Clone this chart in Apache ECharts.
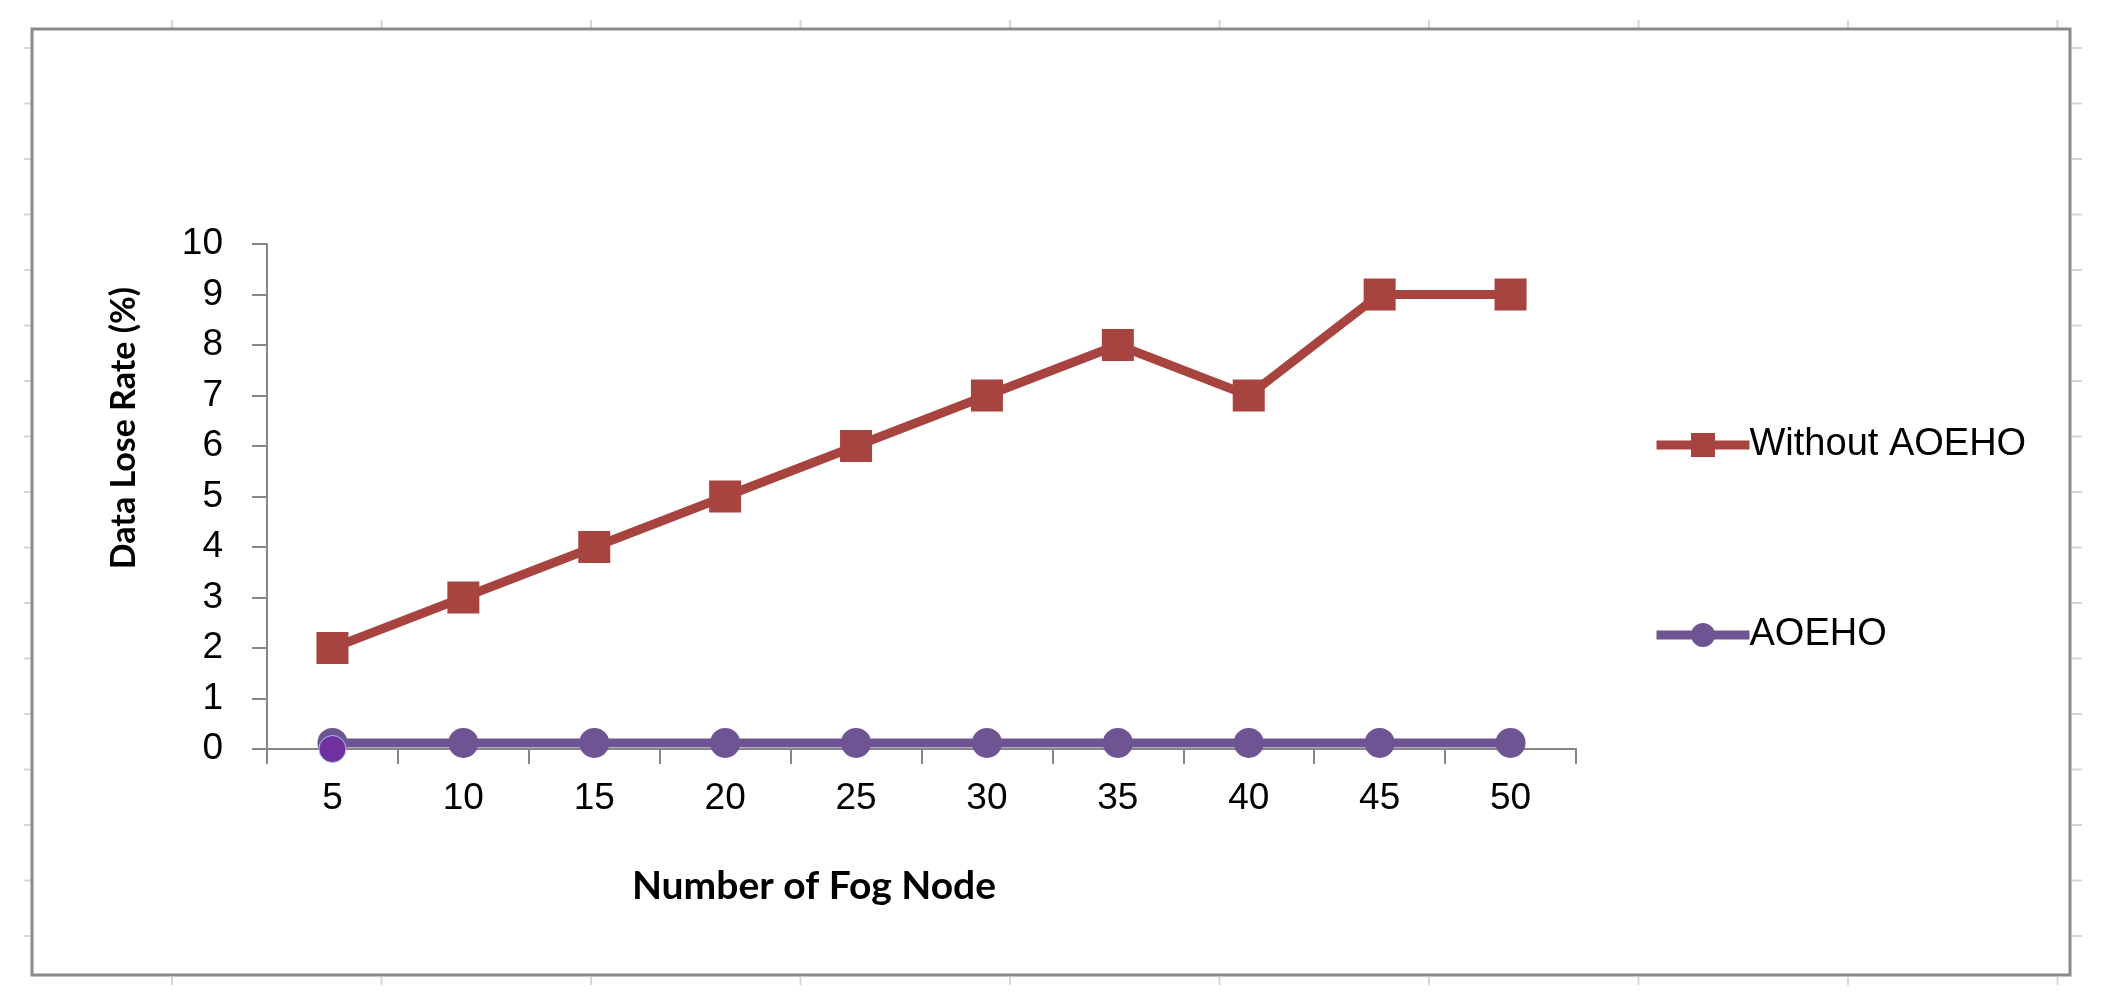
<!DOCTYPE html>
<html><head><meta charset="utf-8">
<script src="https://cdn.jsdelivr.net/npm/echarts@6/dist/echarts.min.js"></script>
<style>html,body{margin:0;padding:0;background:#fff}#c{width:2106px;height:1004px}</style>
</head><body><div id="c"></div>
<script>
const categories = ['5', '10', '15', '20', '25', '30', '35', '40', '45', '50'];
const withoutAOEHO = [2, 3, 4, 5, 6, 7, 8, 7, 9, 9];
const aoeho = [0.12, 0.12, 0.12, 0.12, 0.12, 0.12, 0.12, 0.12, 0.12, 0.12];
const selectedPoint = [0, '-', '-', '-', '-', '-', '-', '-', '-', '-'];
const yTicks = { min: 0, max: 10, interval: 1 };

const RED = '#A8443F', PURPLE = '#6E5492', AXIS = '#868686', DECO = '#d6d6d6';

const deco = [];
for (let k = 0; k < 10; k++) {
  const x = 172 + 209.5 * k;
  deco.push({ type: 'line', shape: { x1: x, y1: 20, x2: x, y2: 28 }, style: { stroke: DECO, lineWidth: 2 } });
  deco.push({ type: 'line', shape: { x1: x, y1: 977, x2: x, y2: 985 }, style: { stroke: DECO, lineWidth: 2 } });
}
for (let k = 0; k < 17; k++) {
  const y = 48 + 55.5 * k;
  deco.push({ type: 'line', shape: { x1: 24, y1: y, x2: 31, y2: y }, style: { stroke: DECO, lineWidth: 2 } });
  deco.push({ type: 'line', shape: { x1: 2072, y1: y, x2: 2082, y2: y }, style: { stroke: DECO, lineWidth: 2 } });
}
deco.push({ type: 'rect', shape: { x: 32, y: 29, width: 2038, height: 946 }, style: { fill: 'none', stroke: '#8a8a8a', lineWidth: 3 } });
deco.push({ type: 'text', x: 124, y: 428, rotation: Math.PI / 2,
  style: { text: 'Data Lose Rate (%)', font: 'bold 34px Lato, "Liberation Sans", Arial', fill: '#000', align: 'center', verticalAlign: 'middle' } });
deco.push({ type: 'text', x: 814, y: 886,
  style: { text: 'Number of Fog Node', font: 'bold 39px Lato, "Liberation Sans", Arial', fill: '#000', align: 'center', verticalAlign: 'middle' } });

const chart = echarts.init(document.getElementById('c'));
chart.setOption({
  animation: false,
  backgroundColor: '#fff',
  textStyle: { fontFamily: '"Liberation Sans", Arial, sans-serif' },
  grid: { left: 267, top: 244, right: 530, bottom: 255, containLabel: false },
  legend: [
    { data: ['Without AOEHO'], orient: 'vertical', left: 1647, top: 421, itemWidth: 93, itemHeight: 30, itemGap: 0,
      lineStyle: { width: 9 }, textStyle: { fontSize: 38, color: '#000', padding: [0, 0, 0, -5] }, selectedMode: false },
    { data: ['AOEHO'], orient: 'vertical', left: 1647, top: 611, itemWidth: 93, itemHeight: 30, itemGap: 0,
      lineStyle: { width: 9 }, textStyle: { fontSize: 38, color: '#000', padding: [0, 0, 0, -5] }, selectedMode: false }
  ],
  xAxis: {
    type: 'category', data: categories, boundaryGap: true,
    axisLine: { lineStyle: { color: AXIS, width: 2 } },
    axisTick: { show: true, length: 15, lineStyle: { color: AXIS, width: 2 } },
    axisLabel: { fontSize: 37, color: '#000', margin: 31 },
    splitLine: { show: false }
  },
  yAxis: {
    type: 'value', min: yTicks.min, max: yTicks.max, interval: yTicks.interval,
    axisLine: { show: true, lineStyle: { color: AXIS, width: 2 } },
    axisTick: { show: true, length: 15, lineStyle: { color: AXIS, width: 2 } },
    axisLabel: { fontSize: 37, color: '#000', margin: 44 },
    splitLine: { show: false }
  },
  series: [
    { name: 'Without AOEHO', type: 'line', data: withoutAOEHO, symbol: 'rect', symbolSize: 32,
      lineStyle: { color: RED, width: 9 }, itemStyle: { color: RED }, z: 3 },
    { name: 'AOEHO', type: 'line', data: aoeho, symbol: 'circle', symbolSize: 30,
      lineStyle: { color: PURPLE, width: 9 }, itemStyle: { color: PURPLE }, z: 3 },
    { name: 'AOEHO selected', type: 'line', data: selectedPoint, symbol: 'circle', symbolSize: 27,
      showSymbol: true, lineStyle: { width: 0 },
      itemStyle: { color: '#7030A0', borderColor: '#9cc7e8', borderWidth: 1 }, z: 5 }
  ],
  graphic: deco
});
</script></body></html>
